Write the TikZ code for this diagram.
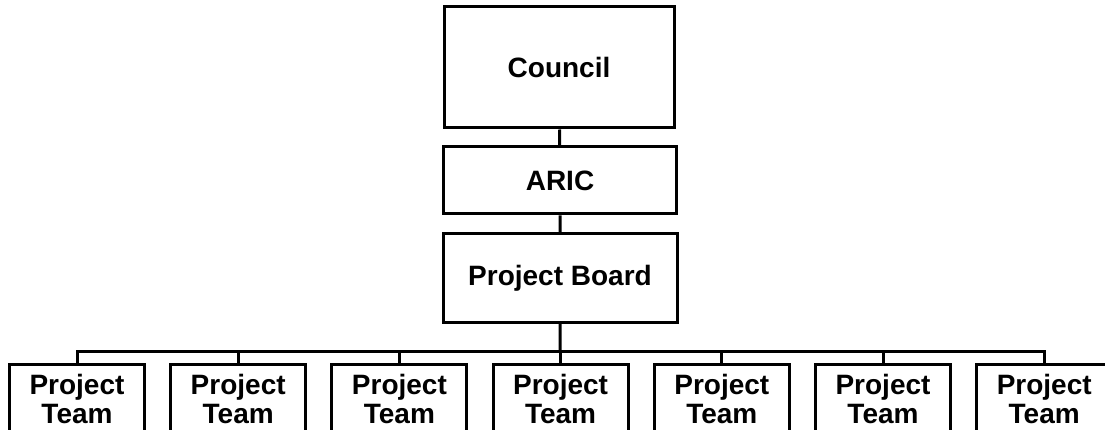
\documentclass[tikz,border=0pt]{standalone}
\usepackage{fontspec}
\setmainfont{Liberation Sans}
\usetikzlibrary{positioning}
\begin{document}
\begin{tikzpicture}[x=1pt, y=-1pt, node distance=161.2pt, line width=3pt,
    box/.style={draw, inner sep=0pt, align=center, font=\bfseries\fontsize{28}{29}\selectfont},
    team/.style={box, minimum width=135pt, minimum height=70pt}]
      \useasboundingbox (0,0) rectangle (1105,430);
      \node[box, minimum width=230pt, minimum height=121pt] (council) at (559,67.5) {Council};
      \node[box, minimum width=233pt, minimum height=67pt]  (aric)    at (560,180.5) {ARIC};
      \node[box, minimum width=234pt, minimum height=88pt]  (board)   at (560,278) {Project Board};

      \node[team] (t_1)   at (77,399)        {Project\\Team};
      \node[team] (t_2)   [right of=t_1]     {Project\\Team};
      \node[team] (t_3)   [right of=t_2]     {Project\\Team};
      \node[team] (t_4)   [right of=t_3]     {Project\\Team};
      \node[team] (t_5)   [right of=t_4]     {Project\\Team};
      \node[team] (t_6)   [right of=t_5]     {Project\\Team};
      \node[team] (t_7)   [right of=t_6]     {Project\\Team};

      \coordinate (bar) at (560,351);
      \draw (council) -- (aric)
            (aric) -- (board)
            (board) -- (bar);
      \draw (t_1.north) |- (bar) -| (t_7.north);
      \draw (t_2.north) -- (t_2.north |- bar)
            (t_3.north) -- (t_3.north |- bar)
            (t_4.north) -- (t_4.north |- bar)
            (t_5.north) -- (t_5.north |- bar)
            (t_6.north) -- (t_6.north |- bar);
    \end{tikzpicture}
\end{document}
